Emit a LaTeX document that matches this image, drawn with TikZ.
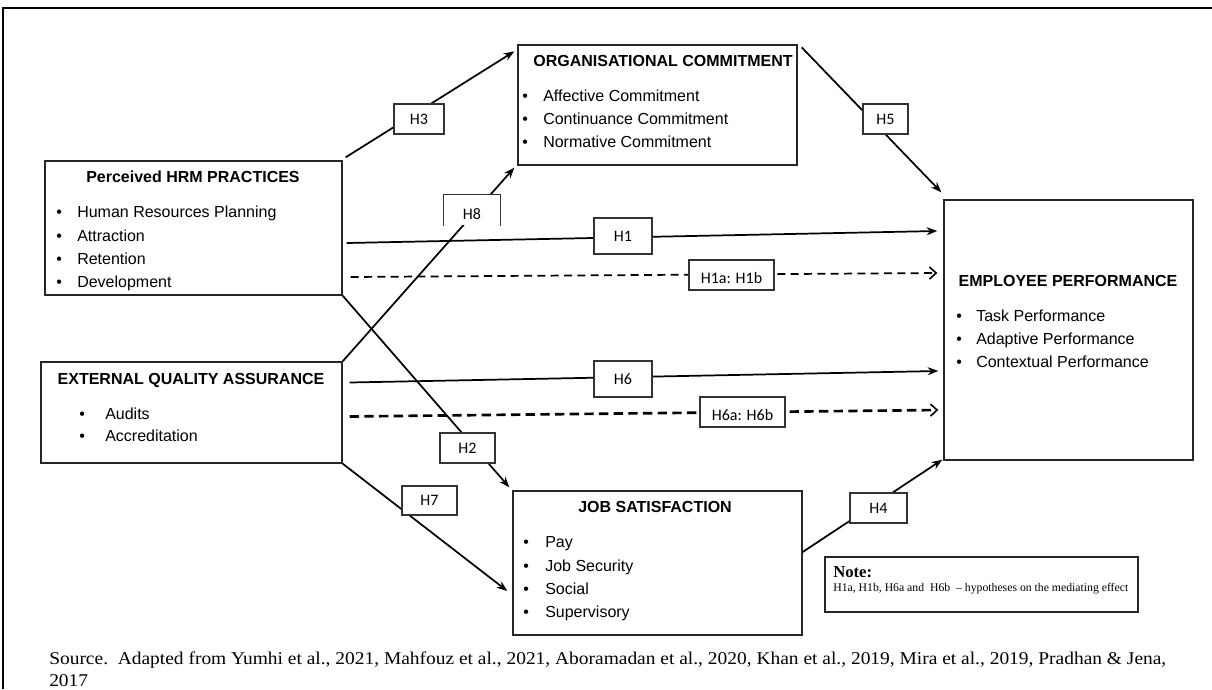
\documentclass[tikz,border=0pt]{standalone}
\usepackage{fontspec}
\setmainfont{Liberation Sans}
\newfontfamily\serifrm{Liberation Serif}
\newfontfamily\carl{Carlito}
\usetikzlibrary{arrows.meta,fit}
\newcommand{\blt}[1]{\makebox[#1][l]{\textbullet}}
\begin{document}
\begin{tikzpicture}[x=0.75pt,y=-0.75pt,
  box/.style={draw=black!85, line width=1pt, inner sep=0pt, rectangle},
  ttl/.style={font=\fontsize{12}{14}\selectfont\bfseries, inner sep=0pt, text height=9pt, text depth=2.5pt},
  item/.style={font=\fontsize{12}{14}\selectfont, inner sep=0pt, anchor=west, text height=9pt, text depth=2.5pt},
  hb/.style={draw=black!80, line width=0.8pt, fill=white, inner sep=0pt},
  ht/.style={inner sep=0pt, font=\carl\fontsize{12}{14}\selectfont, text height=8pt, text depth=0pt},
  conn/.style={line width=1.3pt, -{Stealth[length=8pt,width=6pt]}},
  dconn/.style={line width=1.3pt, dash pattern=on 6pt off 4pt, -{Straight Barb[length=5pt,width=9pt,line width=1.2pt]}},
]
\useasboundingbox (0,0) rectangle (1212,689);
\draw[line width=1.1pt] (3,689) -- (3,8) -- (1212,8);

% main boxes
\node[box, fit={(45,161)(342,295)}] (hrm) {};
\node[box, fit={(518,45)(797,165)}] (org) {};
\node[box, fit={(944,200)(1193,460)}] (ep) {};
\node[box, fit={(41,362)(342,463)}] (eqa) {};
\node[box, fit={(513,491)(802,635)}] (js) {};
\node[box, line width=0.8pt, fit={(825,557)(1138,612)}] (note) {};

% titles
\node[ttl] (hrmt) at (193,178) {Perceived HRM PRACTICES};
\node[ttl] (orgt) at (663,62) {ORGANISATIONAL COMMITMENT};
\node[ttl] (ept) at (1068,282) {EMPLOYEE PERFORMANCE};
\node[ttl] (eqat) at (191,380) {EXTERNAL QUALITY ASSURANCE};
\node[ttl] (jst) at (655,508) {JOB SATISFACTION};

% items
\foreach \yy/\lbl in {213/Human Resources Planning,237/Attraction,260/Retention,283/Development}
  \node[item] (hrm\yy) at (56,\yy) {\blt{15.75pt}\lbl};
\foreach \yy/\lbl in {97/Affective Commitment,120/Continuance Commitment,143/Normative Commitment}
  \node[item] (org\yy) at (522,\yy) {\blt{15.75pt}\lbl};
\foreach \yy/\lbl in {317/Task Performance,340/Adaptive Performance,363/Contextual Performance}
  \node[item] (ep\yy) at (956,\yy) {\blt{15pt}\lbl};
\foreach \yy/\lbl in {415/Audits,437/Accreditation}
  \node[item] (eqa\yy) at (79,\yy) {\blt{19.5pt}\lbl};
\foreach \yy/\lbl in {543/Pay,567/Job Security,590/Social,613/Supervisory}
  \node[item] (js\yy) at (523,\yy) {\blt{16.5pt}\lbl};

% connectors
\draw[conn] ([shift={(3,-3)}]hrm.north east) -- ([shift={(-3,7)}]org.north west);
\draw[conn] ([shift={(4,3)}]org.north east) -- ([shift={(-2,-7)}]ep.north west);
\draw[conn] (eqa.north east) -- ([shift={(-3,2)}]org.south west);
\draw[conn] (hrm.south east) -- ([shift={(-3,-3)}]js.north west);
\draw[conn] (eqa.south east) -- ([shift={(-5,28)}]js.west);
\draw[conn] ([shift={(0,-11)}]js.east) -- ([shift={(-1,-1)}]ep.south west);
\draw[conn] ([shift={(4,15)}]hrm.east) -- ([shift={(-6,-99)}]ep.west);
\draw[dconn] ([shift={(8,49)}]hrm.east) -- ([shift={(-6,-57)}]ep.west);
\draw[conn] ([shift={(7,-30)}]eqa.east) -- ([shift={(-5,41)}]ep.west);
\draw[dconn, line width=2pt, dash pattern=on 7pt off 4pt] ([shift={(7,4)}]eqa.east) -- ([shift={(-5,80)}]ep.west);

% hypothesis labels
\node[hb, fit={(594,218)(652,254)}] (h1) {};
\node[ht] (h1t) at (h1.center) {H1};
\node[hb, fit={(689,260)(774,290)}] (h1ab) {};
\node[ht] (h1abt) at ([yshift=-2]h1ab.center) {H1a: H1b};
\node[hb, fit={(594,361)(652,397)}] (h6) {};
\node[ht] (h6t) at (h6.center) {H6};
\node[hb, fit={(700,397)(785,427)}] (h6ab) {};
\node[ht] (h6abt) at ([yshift=-2]h6ab.center) {H6a: H6b};
\node[hb, fit={(440,433)(495,463)}] (h2) {};
\node[ht] (h2t) at (h2.center) {H2};
\node[hb, fit={(394,104)(444,134)}] (h3) {};
\node[ht] (h3t) at (h3.center) {H3};
\node[hb, fit={(863,104)(908,134)}] (h5) {};
\node[ht] (h5t) at (h5.center) {H5};
\node[hb, fit={(402,486)(457,515)}] (h7) {};
\node[ht] (h7t) at (h7.center) {H7};
\node[hb, fit={(850,493)(907,523)}] (h4) {};
\node[ht] (h4t) at (h4.center) {H4};
\node[hb, draw=none, fit={(444,195)(500,225)}] (h8) {};
\node[ht] (h8t) at ([yshift=-3]h8.center) {H8};
\draw[line width=0.8pt, draw=black!80] (h8.south west) -- (h8.north west) -- (h8.north east) -- (h8.south east);

% note
\node[anchor=west, inner sep=0pt, font=\serifrm\bfseries\fontsize{12.5}{14}\selectfont] (notet) at (833,572) {Note:};
\node[anchor=west, inner sep=0pt, font=\serifrm\fontsize{8.8}{11}\selectfont] (notel) at (833,589) {H1a, H1b, H6a and\ \ H6b\ \ \textendash\ hypotheses on the mediating effect};

% source
\node[anchor=west, inner sep=0pt, font=\serifrm\fontsize{13.5}{16}\selectfont] (src1) at (49,660) {\scalebox{1.08}[1]{Source.\ \ Adapted from Yumhi et al., 2021, Mahfouz et al., 2021, Aboramadan et al., 2020, Khan et al., 2019, Mira et al., 2019, Pradhan \& Jena,}};
\node[anchor=west, inner sep=0pt, font=\serifrm\fontsize{13.5}{16}\selectfont] (src2) at (49,681) {\scalebox{1.08}[1]{2017}};
\end{tikzpicture}
\end{document}
